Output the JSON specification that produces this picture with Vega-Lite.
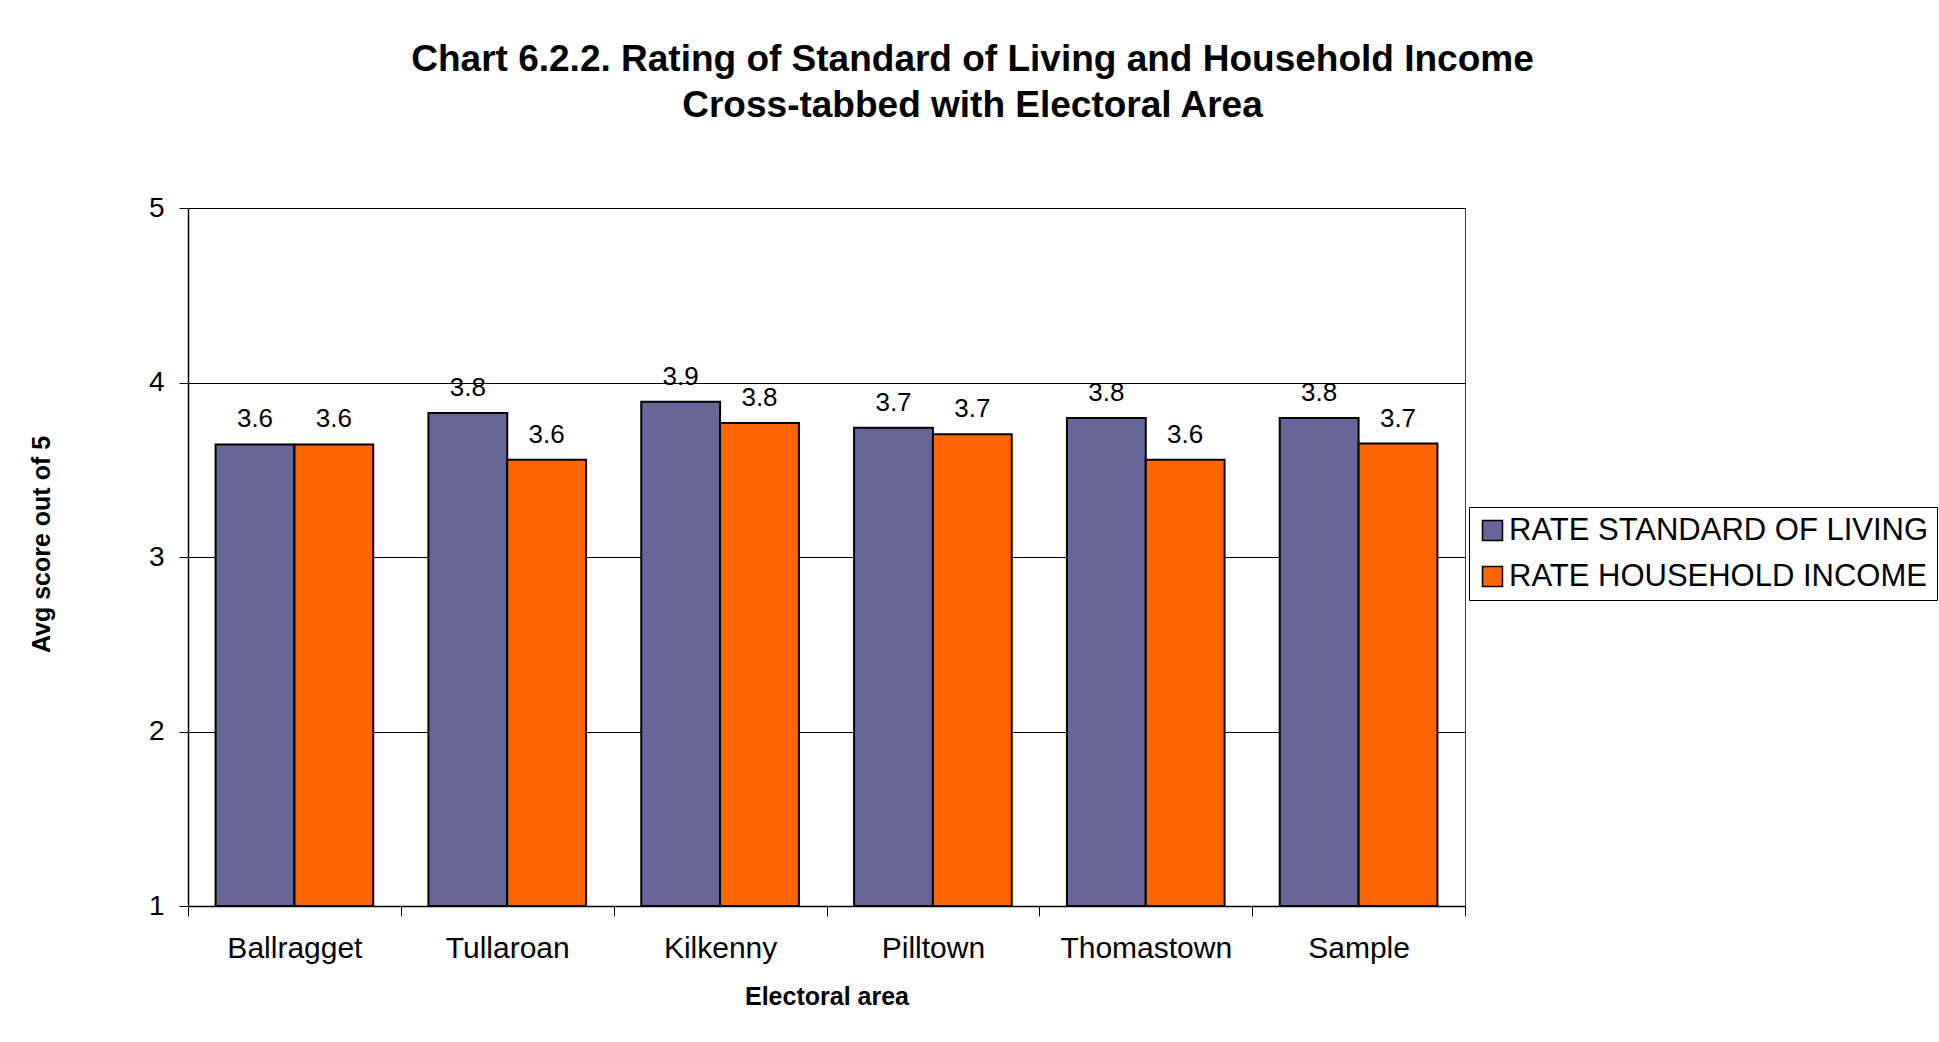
{
  "$schema": "https://vega.github.io/schema/vega-lite/v6.json",
  "width": 1277,
  "height": 698,
  "autosize": {"type": "none"},
  "padding": {"left": 188, "top": 208, "right": 474, "bottom": 136},
  "background": "white",
  "title": {
    "text": ["Chart 6.2.2. Rating of Standard of Living and Household Income", "Cross-tabbed with Electoral Area"],
    "font": "Liberation Sans",
    "fontSize": 37,
    "fontWeight": "bold",
    "color": "black",
    "anchor": "middle",
    "frame": "group",
    "dx": 146,
    "lineHeight": 46,
    "offset": 69
  },
  "data": {
    "values": [
      {"area": "Ballragget", "series": "RATE STANDARD OF LIVING", "value": 3.645, "label": "3.6"},
      {"area": "Ballragget", "series": "RATE HOUSEHOLD INCOME", "value": 3.645, "label": "3.6"},
      {"area": "Tullaroan", "series": "RATE STANDARD OF LIVING", "value": 3.825, "label": "3.8"},
      {"area": "Tullaroan", "series": "RATE HOUSEHOLD INCOME", "value": 3.557, "label": "3.6"},
      {"area": "Kilkenny", "series": "RATE STANDARD OF LIVING", "value": 3.89, "label": "3.9"},
      {"area": "Kilkenny", "series": "RATE HOUSEHOLD INCOME", "value": 3.768, "label": "3.8"},
      {"area": "Pilltown", "series": "RATE STANDARD OF LIVING", "value": 3.74, "label": "3.7"},
      {"area": "Pilltown", "series": "RATE HOUSEHOLD INCOME", "value": 3.704, "label": "3.7"},
      {"area": "Thomastown", "series": "RATE STANDARD OF LIVING", "value": 3.797, "label": "3.8"},
      {"area": "Thomastown", "series": "RATE HOUSEHOLD INCOME", "value": 3.557, "label": "3.6"},
      {"area": "Sample", "series": "RATE STANDARD OF LIVING", "value": 3.797, "label": "3.8"},
      {"area": "Sample", "series": "RATE HOUSEHOLD INCOME", "value": 3.65, "label": "3.7"}
    ]
  },
  "encoding": {
    "x": {
      "field": "area",
      "type": "nominal",
      "sort": ["Ballragget", "Tullaroan", "Kilkenny", "Pilltown", "Thomastown", "Sample"],
      "scale": {"paddingInner": 0, "paddingOuter": 0},
      "axis": {
        "title": "Electoral area",
        "labelAngle": 0,
        "tickBand": "extent",
        "tickSize": 10,
        "labelPadding": 17,
        "labelFontSize": 30,
        "titleFontSize": 25,
        "titlePadding": 21
      }
    },
    "xOffset": {
      "field": "series",
      "type": "nominal",
      "sort": ["RATE STANDARD OF LIVING", "RATE HOUSEHOLD INCOME"],
      "scale": {"paddingInner": 0, "paddingOuter": 0.35}
    },
    "y": {
      "field": "value",
      "type": "quantitative",
      "scale": {"domain": [1, 5], "nice": false, "zero": false},
      "axis": {
        "title": "Avg score out of 5",
        "values": [1, 2, 3, 4, 5],
        "grid": true,
        "tickSize": 9,
        "labelPadding": 15,
        "labelFontSize": 28,
        "titleFontSize": 25,
        "titlePadding": 94,
        "titleY": 336
      }
    }
  },
  "layer": [
    {
      "mark": {"type": "bar", "stroke": "black", "strokeWidth": 2},
      "encoding": {
        "y2": {"datum": 1},
        "color": {
          "field": "series",
          "type": "nominal",
          "sort": ["RATE STANDARD OF LIVING", "RATE HOUSEHOLD INCOME"],
          "scale": {"domain": ["RATE STANDARD OF LIVING", "RATE HOUSEHOLD INCOME"], "range": ["#666699", "#FF6600"]},
          "legend": {"title": null}
        }
      }
    },
    {
      "mark": {"type": "text", "baseline": "middle", "dy": -25, "fontSize": 26, "font": "Liberation Sans", "color": "black"},
      "encoding": {
        "text": {"field": "label", "type": "nominal"}
      }
    }
  ],
  "config": {
    "font": "Liberation Sans",
    "view": {"stroke": "#404040", "strokeWidth": 1},
    "axis": {
      "labelFont": "Liberation Sans",
      "titleFont": "Liberation Sans",
      "labelColor": "black",
      "titleColor": "black",
      "titleFontWeight": "bold",
      "domainColor": "black",
      "domainWidth": 1.5,
      "tickColor": "black",
      "tickWidth": 1,
      "gridColor": "black",
      "gridWidth": 1,
      "gridOpacity": 1
    },
    "legend": {
      "orient": "none",
      "legendX": 1281,
      "legendY": 299,
      "labelFont": "Liberation Sans",
      "labelFontSize": 31,
      "labelColor": "black",
      "labelLimit": 600,
      "labelOffset": 1,
      "symbolType": "square",
      "symbolSize": 400,
      "symbolStrokeColor": "black",
      "symbolStrokeWidth": 1.5,
      "symbolOpacity": 1,
      "padding": 8,
      "rowPadding": 14,
      "strokeColor": "black",
      "fillColor": "white"
    }
  }
}
